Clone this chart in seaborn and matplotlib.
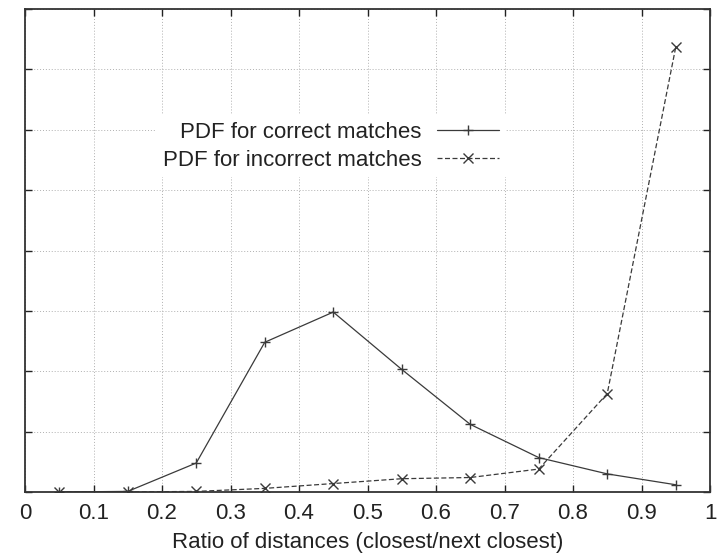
import numpy as np
import pandas as pd
import seaborn as sns
import matplotlib.pyplot as plt

# ratio bins (centres)
ratio = [0.05, 0.15, 0.25, 0.35, 0.45, 0.55, 0.65, 0.75, 0.85, 0.95]
# values (grid units)
correct = [0.0, 0.01, 0.48, 2.48, 2.98, 2.03, 1.12, 0.57, 0.30, 0.12]
incorrect = [0.0, 0.0, 0.01, 0.06, 0.14, 0.22, 0.24, 0.38, 1.63, 7.37]

lab_ok = 'PDF for correct matches'
lab_bad = 'PDF for incorrect matches'

df = pd.DataFrame({
    'ratio': ratio * 2,
    'pdf': correct + incorrect,
    'serie': [lab_ok] * len(ratio) + [lab_bad] * len(ratio),
})

sns.set_style('ticks')
plt.rcParams['font.family'] = ['Liberation Sans', 'DejaVu Sans']
fs = 16

fig = plt.figure(figsize=(7.17, 5.59), dpi=100)
ax = fig.add_axes([25 / 717, 67 / 559, 685 / 717, 483 / 559])

col = '#3a3a3a'
sns.lineplot(data=df, x='ratio', y='pdf', style='serie', markers=['+', 'x'],
             dashes=[(None, None), (4, 2)], color=col, linewidth=0.9,
             markersize=7, markeredgewidth=1.0, markeredgecolor=col,
             ax=ax, legend=True)

ax.set_xlim(0, 1)
ax.set_ylim(0, 8)
ax.set_xticks(np.arange(0, 1.01, 0.1))
ax.set_xticklabels(['0', '0.1', '0.2', '0.3', '0.4', '0.5', '0.6', '0.7', '0.8', '0.9', '1'])
ax.set_yticks(np.arange(0, 8.1, 1))
ax.set_yticklabels([])
ax.tick_params(direction='in', length=5, width=1, top=True, right=True,
               labelsize=fs, pad=8, colors='#222222')
ax.grid(True, linestyle=(0, (1, 2)), color='#b0b0b0', linewidth=0.7)
for s in ax.spines.values():
    s.set_linewidth(1.3)
    s.set_color('#333333')
    s.set_visible(True)

ax.set_xlabel('Ratio of distances (closest/next closest)', fontsize=fs, labelpad=6, color='#222222')
ax.set_ylabel('')

leg = ax.legend(loc='center right', bbox_to_anchor=(0.718, 0.716), markerfirst=False,
                frameon=True, fontsize=fs, handlelength=2.8, handletextpad=0.7,
                labelspacing=0.3, borderpad=0.3, fancybox=False)
leg.get_frame().set_edgecolor('none')
leg.get_frame().set_facecolor('white')
leg.get_frame().set_alpha(1)
for t in leg.get_texts():
    t.set_color('#222222')

fig.savefig('out.png', dpi=100)
